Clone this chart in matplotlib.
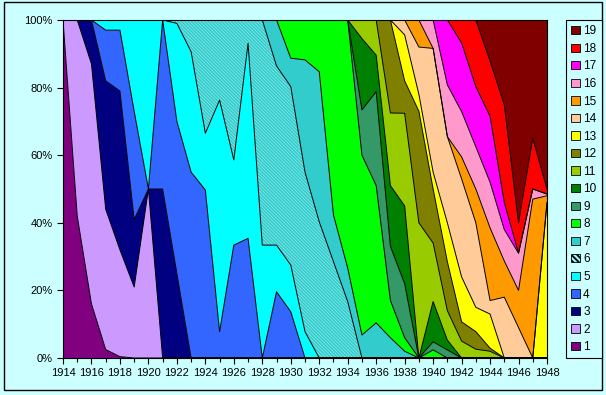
import numpy as np
import matplotlib
matplotlib.use('Agg')
import matplotlib.pyplot as plt
from matplotlib.patches import Rectangle, Patch

plt.rcParams['font.family'] = ['Liberation Sans', 'DejaVu Sans']
plt.rcParams['hatch.linewidth'] = 1.3

# 1. Data: share (%) of each of the 19 series per year, 1914..1948
years = list(range(1914, 1949))

#      1914 ..................................................................................................................................... 1948
s1  = [100, 42, 16, 2.5, 0.4, 0, 0, 0, 0, 0, 0, 0, 0, 0, 0, 0, 0, 0, 0, 0, 0, 0, 0, 0, 0, 0, 0, 0, 0, 0, 0, 0, 0, 0, 0]
s2  = [0, 58, 71, 41.5, 31.6, 21, 50, 0, 0, 0, 0, 0, 0, 0, 0, 0, 0, 0, 0, 0, 0, 0, 0, 0, 0, 0, 0, 0, 0, 0, 0, 0, 0, 0, 0]
s3  = [0, 0, 13, 38, 47, 20, 0, 50, 25, 0, 0, 0, 0, 0, 0, 0, 0, 0, 0, 0, 0, 0, 0, 0, 0, 0, 0, 0, 0, 0, 0, 0, 0, 0, 0]
s4  = [0, 0, 0, 15, 18, 32, 0, 50, 45, 55, 49.7, 7.8, 33.4, 35.4, 0, 19.6, 13.7, 0, 0, 0, 0, 0, 0, 0, 0, 0, 0, 0, 0, 0, 0, 0, 0, 0, 0]
s5  = [0, 0, 0, 3, 3, 27, 50, 0, 29, 35.6, 16.8, 68.5, 25.2, 57.7, 33.4, 13.8, 13.8, 7.8, 0, 0, 0, 0, 0, 0, 0, 0, 0, 0, 0, 0, 0, 0, 0, 0, 0]
s6  = [0, 0, 0, 0, 0, 0, 0, 0, 1, 9.4, 33.5, 23.7, 41.4, 6.9, 66.6, 53, 52.8, 47.2, 40.3, 28.5, 16.7, 0, 0, 0, 0, 0, 0, 0, 0, 0, 0, 0, 0, 0, 0]
s7  = [0, 0, 0, 0, 0, 0, 0, 0, 0, 0, 0, 0, 0, 0, 0, 13.6, 8.4, 33.2, 44.4, 13.8, 9.9, 6.8, 10.4, 6, 2, 0, 0, 0, 0, 0, 0, 0, 0, 0, 0]
s8  = [0, 0, 0, 0, 0, 0, 0, 0, 0, 0, 0, 0, 0, 0, 0, 0, 11.3, 11.8, 15.3, 57.7, 73.4, 53.2, 40.6, 11, 4, 0, 2.4, 0, 0, 0, 0, 0, 0, 0, 0]
s9  = [0, 0, 0, 0, 0, 0, 0, 0, 0, 0, 0, 0, 0, 0, 0, 0, 0, 0, 0, 0, 0, 13.4, 27.8, 16, 16, 0, 2.4, 2.4, 0, 0, 0, 0, 0, 0, 0]
s10 = [0, 0, 0, 0, 0, 0, 0, 0, 0, 0, 0, 0, 0, 0, 0, 0, 0, 0, 0, 0, 0, 21.1, 10.8, 18, 23, 0, 11.9, 2.9, 0, 0, 0, 0, 0, 0, 0]
s11 = [0, 0, 0, 0, 0, 0, 0, 0, 0, 0, 0, 0, 0, 0, 0, 0, 0, 0, 0, 0, 0, 5.5, 10.4, 21.5, 27.4, 40, 17.3, 8.7, 5, 2.6, 2, 0, 0, 0, 0]
s12 = [0, 0, 0, 0, 0, 0, 0, 0, 0, 0, 0, 0, 0, 0, 0, 0, 0, 0, 0, 0, 0, 0, 0, 27.5, 9.6, 33, 16, 14.5, 5.7, 5.2, 0.9, 0, 0, 0, 0]
s13 = [0, 0, 0, 0, 0, 0, 0, 0, 0, 0, 0, 0, 0, 0, 0, 0, 0, 0, 0, 0, 0, 0, 0, 0, 13.6, 5, 5, 11.5, 13.3, 7.2, 10.1, 0, 0, 0, 46]
s14 = [0, 0, 0, 0, 0, 0, 0, 0, 0, 0, 0, 0, 0, 0, 0, 0, 0, 0, 0, 0, 0, 0, 0, 0, 4.4, 14, 36.6, 25.5, 29, 25, 4, 18, 9, 0, 0]
s15 = [0, 0, 0, 0, 0, 0, 0, 0, 0, 0, 0, 0, 0, 0, 0, 0, 0, 0, 0, 0, 0, 0, 0, 0, 0, 8, 0, 0, 6.5, 10, 21.5, 10.7, 11, 47, 2]
s16 = [0, 0, 0, 0, 0, 0, 0, 0, 0, 0, 0, 0, 0, 0, 0, 0, 0, 0, 0, 0, 0, 0, 0, 0, 0, 0, 8.4, 15.3, 13.4, 12.5, 13.5, 9.3, 11, 3, 0.5]
s17 = [0, 0, 0, 0, 0, 0, 0, 0, 0, 0, 0, 0, 0, 0, 0, 0, 0, 0, 0, 0, 0, 0, 0, 0, 0, 0, 0, 19.2, 20.3, 17.8, 19.5, 8, 0, 0, 0]
s18 = [0, 0, 0, 0, 0, 0, 0, 0, 0, 0, 0, 0, 0, 0, 0, 0, 0, 0, 0, 0, 0, 0, 0, 0, 0, 0, 0, 0, 6.8, 19.7, 16.4, 28.9, 9, 15, 1.5]
s19 = [0, 0, 0, 0, 0, 0, 0, 0, 0, 0, 0, 0, 0, 0, 0, 0, 0, 0, 0, 0, 0, 0, 0, 0, 0, 0, 0, 0, 0, 0, 12.1, 25.1, 60, 35, 50]

series = [s1, s2, s3, s4, s5, s6, s7, s8, s9, s10, s11, s12, s13, s14, s15, s16, s17, s18, s19]
labels = [str(i) for i in range(1, 20)]
colors = ['#800080', '#CC99FF', '#000080', '#3366FF', '#00FFFF', '#A8F4F4', '#33CCCC',
          '#00FF00', '#339966', '#008000', '#99CC00', '#808000', '#FFFF00', '#FFCC99',
          '#FF9900', '#FF99CC', '#FF00FF', '#FF0000', '#800000']
hatch_col = '#33CCCC'
hatch = '\\' * 10
bg = '#CCFFFF'

# 2. 100% stack
data = np.array(series, dtype=float)
data = data / data.sum(axis=0) * 100
tops = np.cumsum(data, axis=0)
bottoms = np.vstack([np.zeros(len(years)), tops[:-1]])

# 3. Plot
fig = plt.figure(figsize=(6.06, 3.95), dpi=100, facecolor=bg)
ax = fig.add_axes([63 / 606, 1 - 358 / 395, 484 / 606, 338 / 395])
ax.set_facecolor(bg)

for i in range(len(series)):
    if i == 5:
        ax.fill_between(years, bottoms[i], tops[i], facecolor=colors[i],
                        edgecolor=hatch_col, hatch=hatch, linewidth=0)
    else:
        ax.fill_between(years, bottoms[i], tops[i], facecolor=colors[i], linewidth=0)
for i in range(len(series)):
    ax.plot(years, tops[i], color='black', linewidth=0.7)

ax.set_xlim(1914, 1948)
ax.set_ylim(0, 100)
ax.set_xticks(range(1914, 1949, 2))
ax.set_xticks(range(1914, 1949), minor=True)
ax.set_yticks(range(0, 101, 20))
ax.set_yticklabels([f'{v}%' for v in range(0, 101, 20)])
ax.tick_params(axis='both', which='both', direction='out', labelsize=8, length=4, width=0.8)
ax.tick_params(axis='x', which='minor', length=3)
for sp in ax.spines.values():
    sp.set_linewidth(0.8)

# legend, 19 at top
handles = []
for i in range(len(series) - 1, -1, -1):
    if i == 5:
        handles.append(Patch(facecolor=colors[i], edgecolor='black', hatch='\\' * 6, linewidth=0.6))
    else:
        handles.append(Patch(facecolor=colors[i], edgecolor='black', linewidth=0.6))
leg = fig.legend(handles, labels[::-1], loc='upper left', bbox_to_anchor=(566 / 606, 1 - 20 / 395),
                 borderaxespad=0, fontsize=8.5, frameon=True, fancybox=False,
                 edgecolor='black', facecolor=bg, framealpha=1,
                 handlelength=0.7, handleheight=0.7, handletextpad=0.3,
                 labelspacing=0.47, borderpad=0.45)
leg.get_frame().set_linewidth(0.8)

# outer frame
fig.patches.append(Rectangle((0.006, 0.012), 0.988, 0.982, transform=fig.transFigure,
                             fill=False, edgecolor='black', linewidth=1))

plt.savefig('out.png', dpi=100, facecolor=bg)
